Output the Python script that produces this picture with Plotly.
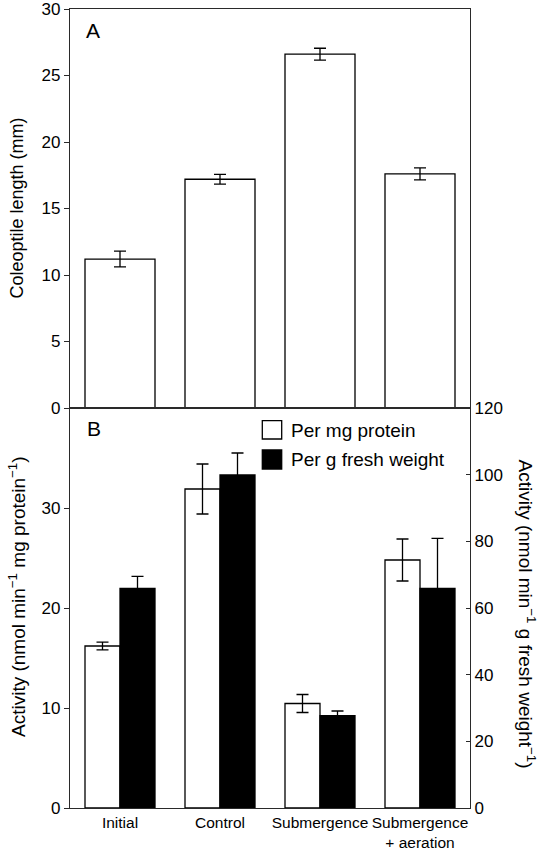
import plotly.graph_objects as go

# ---------------- data ----------------
categories = ["Initial", "Control", "Submergence", "Submergence<br>+ aeration"]

# Panel A: coleoptile length (mm)
length_mm = [11.2, 17.2, 26.6, 17.6]
length_err = [0.59, 0.36, 0.45, 0.45]

# Panel B: activity
series_names = ["Per mg protein", "Per g fresh weight"]
per_mg_protein = [16.2, 31.9, 10.45, 24.8]
per_mg_protein_err = [0.39, 2.5, 0.9, 2.1]
per_g_fw = [65.9, 99.9, 27.7, 65.9]
per_g_fw_err = [3.6, 6.6, 1.4, 15.0]

yA_ticks = [0, 5, 10, 15, 20, 25, 30]
yB_left_ticks = [0, 10, 20, 30]
yB_right_ticks = [0, 20, 40, 60, 80, 100, 120]

# ---------------- figure ----------------
FONT = "Liberation Sans, Arial, Helvetica, sans-serif"
LINE = "#2a2a2a"
LW = 1.3
xpos = list(range(len(categories)))

fig = go.Figure()

fig.add_trace(go.Bar(
    x=xpos, y=length_mm, width=0.7,
    marker=dict(color="white", line=dict(color="black", width=LW)),
    error_y=dict(type="data", array=length_err, color="black", thickness=LW, width=6),
    xaxis="x", yaxis="y", showlegend=False,
))

fig.add_trace(go.Bar(
    x=xpos, y=per_mg_protein, width=0.35, offset=-0.35,
    marker=dict(color="white", line=dict(color="black", width=LW)),
    error_y=dict(type="data", array=per_mg_protein_err, color="black", thickness=LW, width=6),
    xaxis="x2", yaxis="y2", name=series_names[0], showlegend=False,
))

fig.add_trace(go.Bar(
    x=xpos, y=per_g_fw, width=0.35, offset=0.0,
    marker=dict(color="black", line=dict(color="black", width=LW)),
    error_y=dict(type="data", array=per_g_fw_err, color="black", thickness=LW, width=6),
    xaxis="x2", yaxis="y3", name=series_names[1], showlegend=False,
))

W, H = 542, 852
ML, MR, MT, MB = 70, 72, 9, 44
PW = W - ML - MR
PH = H - MT - MB
split = (H - MB - 408) / PH


def px_x(px):
    return (px - ML) / PW


def px_y(py):
    return (H - MB - py) / PH


base_axis = dict(showline=True, linecolor=LINE, linewidth=LW, showgrid=False,
                 zeroline=False, automargin=False, ticklabeloverflow="allow")
ytick_font = dict(family=FONT, size=17, color="black")

fig.update_layout(
    width=W, height=H,
    margin=dict(l=ML, r=MR, t=MT, b=MB, autoexpand=False),
    paper_bgcolor="white", plot_bgcolor="white",
    font=dict(family=FONT, color="black"),
    showlegend=False,
    xaxis=dict(domain=[0, 1], anchor="y", range=[-0.5, 3.5], mirror=True,
               showticklabels=False, ticks="", **base_axis),
    yaxis=dict(domain=[split, 1], anchor="x", range=[0, 30], tickvals=yA_ticks,
               ticks="outside", ticklen=5, tickcolor=LINE, tickwidth=LW, mirror=True,
               tickfont=ytick_font, **base_axis),
    xaxis2=dict(domain=[0, 1], anchor="y2", range=[-0.5, 3.5], mirror=True,
                tickvals=xpos, ticktext=categories, ticks="", tickangle=0,
                tickfont=dict(family=FONT, size=15.5, color="black"), **base_axis),
    yaxis2=dict(domain=[0, split], anchor="x2", range=[0, 40], tickvals=yB_left_ticks,
                ticks="outside", ticklen=5, tickcolor=LINE, tickwidth=LW,
                tickfont=ytick_font, **base_axis),
    yaxis3=dict(domain=[0, split], anchor="x2", overlaying="y2", side="right",
                range=[0, 120], tickvals=yB_right_ticks,
                ticks="inside", ticklen=4, tickcolor=LINE, tickwidth=LW,
                tickfont=ytick_font, **base_axis),
)

annotations = [
    dict(text="A", x=px_x(92.5), y=px_y(30), font=dict(size=21)),
    dict(text="B", x=px_x(94), y=px_y(428.7), font=dict(size=21)),
    dict(text="Coleoptile length (mm)", x=px_x(16), y=px_y(208.5), textangle=-90,
         font=dict(size=18)),
    dict(text="Activity (nmol min<sup>−1</sup> mg protein<sup>−1</sup>)", x=px_x(17),
         y=px_y(597), textangle=-90, font=dict(size=19)),
    dict(text="Activity (nmol min<sup>−1</sup> g fresh weight<sup>−1</sup>)", x=px_x(527),
         y=px_y(613.5), textangle=90, font=dict(size=19)),
    dict(text=series_names[0], x=px_x(289), y=px_y(430), xanchor="left", font=dict(size=19)),
    dict(text=series_names[1], x=px_x(289), y=px_y(459.5), xanchor="left", font=dict(size=19)),
]
for a in annotations:
    a.setdefault("xanchor", "center")
    a.update(xref="paper", yref="paper", yanchor="middle", showarrow=False)
    a["font"].update(family=FONT, color="black")
fig.update_layout(annotations=annotations)

fig.update_layout(shapes=[
    dict(type="rect", xref="paper", yref="paper", x0=px_x(262.3), x1=px_x(281.7),
         y0=px_y(439), y1=px_y(420.7), fillcolor="white", line=dict(color="black", width=LW)),
    dict(type="rect", xref="paper", yref="paper", x0=px_x(262.3), x1=px_x(281.7),
         y0=px_y(469), y1=px_y(450), fillcolor="black", line=dict(color="black", width=LW)),
])

fig.write_html("out.html", config={"displayModeBar": False},
               post_script="document.body.style.margin='0';")
